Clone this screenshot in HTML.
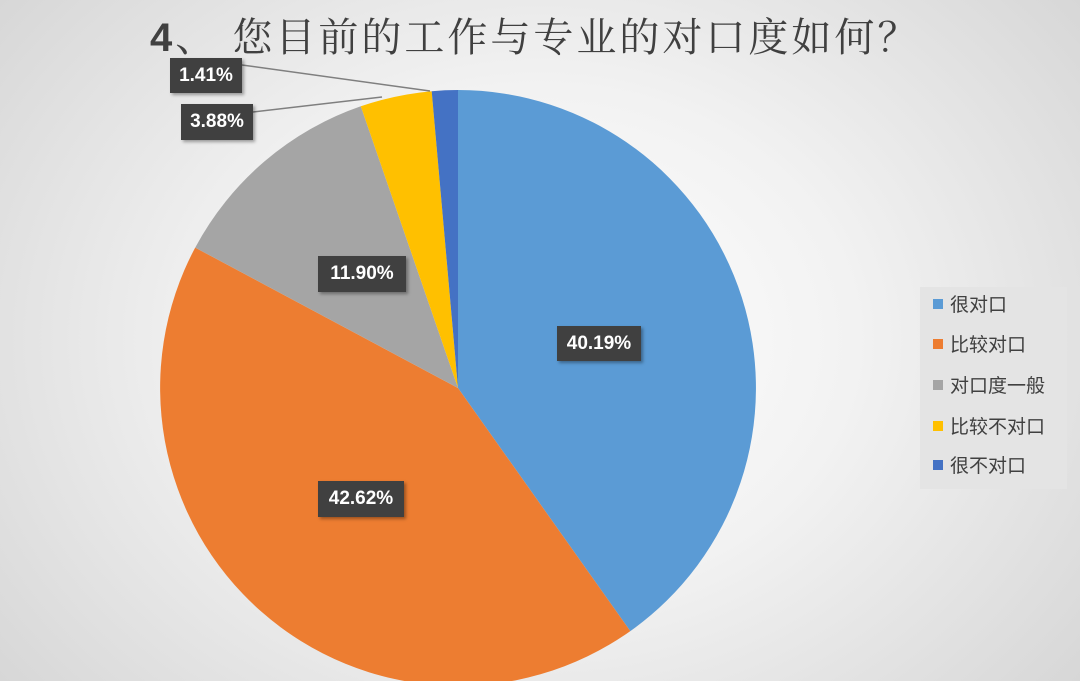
<!DOCTYPE html>
<html><head><meta charset="utf-8"><style>
body{margin:0;width:1080px;height:681px;overflow:hidden;background:radial-gradient(ellipse 700px 560px at 540px 340px,#ffffff 0%,#f2f2f2 45%,#d6d6d6 100%);font-family:"Liberation Sans","Noto Sans CJK SC",sans-serif}
.t{position:absolute;left:150px;top:6px;white-space:nowrap;font-size:40px;color:#404040;letter-spacing:3px;font-family:"Liberation Sans","Noto Serif CJK SC",sans-serif}
.lb{position:absolute;background:#404040;color:#fff;font-weight:bold;font-size:19px;display:flex;align-items:center;justify-content:center;box-shadow:2px 2px 3px rgba(0,0,0,.35)}
.lg{position:absolute;left:920px;top:287px;width:147px;height:202px;background:#e4e4e4}
.it{position:absolute;left:13px;font-size:19px;color:#404040;white-space:nowrap}
.it i{display:inline-block;width:10px;height:10px;margin-right:7px;vertical-align:2px}
</style></head><body>
<div class="t"><b>4</b>、 您目前的工作与专业的对口度如何？</div>
<svg width="1080" height="681" style="position:absolute;left:0;top:0">
<path d="M458,388 L458,90 A298,298 0 0 1 630.3,631.1Z" fill="#5b9bd5"/>
<path d="M458,388 L630.3,631.1 A298,298 0 0 1 195.2,247.6Z" fill="#ed7d31"/>
<path d="M458,388 L195.2,247.6 A298,298 0 0 1 360.8,106.3Z" fill="#a5a5a5"/>
<path d="M458,388 L360.8,106.3 A298,298 0 0 1 431.7,91.2Z" fill="#ffc000"/>
<path d="M458,388 L431.7,91.2 A298,298 0 0 1 458,90Z" fill="#4472c4"/>
<polyline points="242,65 430,91" stroke="#7f7f7f" stroke-width="1.5" fill="none"/>
<polyline points="253,112 382,97" stroke="#7f7f7f" stroke-width="1.5" fill="none"/>
</svg>
<div class="lb" style="left:170px;top:58px;width:72px;height:35px">1.41%</div>
<div class="lb" style="left:181px;top:104px;width:72px;height:36px">3.88%</div>
<div class="lb" style="left:318px;top:256px;width:88px;height:36px">11.90%</div>
<div class="lb" style="left:557px;top:326px;width:84px;height:35px">40.19%</div>
<div class="lb" style="left:318px;top:481px;width:86px;height:36px">42.62%</div>
<div class="lg">
<div class="it" style="top:3px"><i style="background:#5b9bd5"></i>很对口</div>
<div class="it" style="top:43px"><i style="background:#ed7d31"></i>比较对口</div>
<div class="it" style="top:84px"><i style="background:#a5a5a5"></i>对口度一般</div>
<div class="it" style="top:125px"><i style="background:#ffc000"></i>比较不对口</div>
<div class="it" style="top:164px"><i style="background:#4472c4"></i>很不对口</div>
</div>
</body></html>
